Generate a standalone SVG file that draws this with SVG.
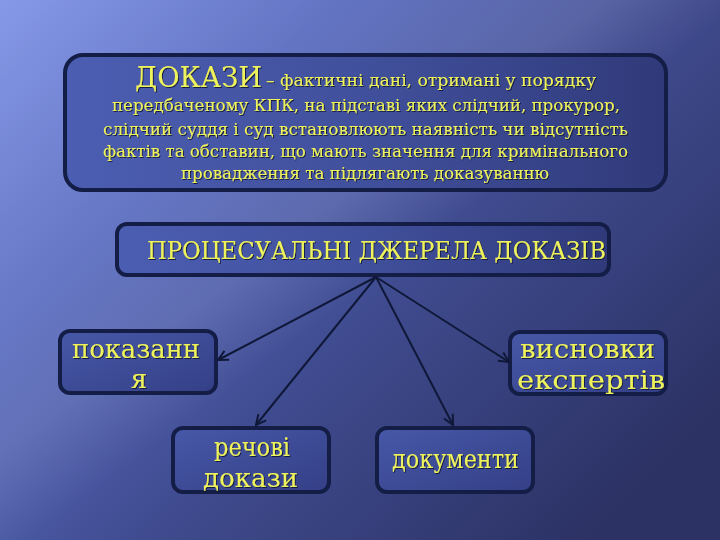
<svg xmlns="http://www.w3.org/2000/svg" width="720" height="540" viewBox="0 0 720 540">
<defs>
<linearGradient id="bg" x1="0" y1="0" x2="1" y2="0.75">
<stop offset="0" stop-color="#8699e8"/>
<stop offset="0.3" stop-color="#5a6cc0"/>
<stop offset="0.6" stop-color="#404c90"/>
<stop offset="1" stop-color="#2c3264"/>
</linearGradient>
<linearGradient id="band" x1="0" y1="0" x2="1" y2="1">
<stop offset="0" stop-color="#ffffff" stop-opacity="0"/>
<stop offset="0.42" stop-color="#ffffff" stop-opacity="0.1"/>
<stop offset="0.52" stop-color="#ffffff" stop-opacity="0"/>
<stop offset="1" stop-color="#ffffff" stop-opacity="0"/>
</linearGradient>
<linearGradient id="boxfill" x1="0" y1="0" x2="1" y2="0">
<stop offset="0" stop-color="#4c5eb2"/>
<stop offset="0.5" stop-color="#41509c"/>
<stop offset="1" stop-color="#303a7a"/>
</linearGradient>
<linearGradient id="smallfill" x1="0" y1="0" x2="1" y2="1">
<stop offset="0" stop-color="#4758a8"/>
<stop offset="1" stop-color="#343f86"/>
</linearGradient>
<filter id="sh" x="-5%" y="-20%" width="110%" height="140%">
<feDropShadow dx="1" dy="1" stdDeviation="0.6" flood-color="#10183a" flood-opacity="0.9"/>
</filter>
<marker id="arr" viewBox="0 0 12 12" refX="11" refY="6" markerWidth="12" markerHeight="12" markerUnits="userSpaceOnUse" orient="auto">
<path d="M1,1 L11,6 L1,11" fill="none" stroke="#0f1838" stroke-width="2"/>
</marker>
</defs>
<style>
.box{stroke:#131d45;stroke-width:4;}
.t{font-family:"DejaVu Serif","Liberation Serif",serif;fill:#eef25c;filter:url(#sh);}
.n{font-size:26px;}
.conn{stroke:#0f1838;stroke-width:2;fill:none;}
</style>
<rect width="720" height="540" fill="url(#bg)"/>
<rect width="720" height="540" fill="url(#band)"/>

<g id="definition">
<rect class="box" x="65" y="55" width="601" height="135" rx="18" fill="url(#boxfill)"/>
<text class="t" x="135" y="87" font-size="28" textLength="127" lengthAdjust="spacingAndGlyphs">ДОКАЗИ</text>
<text class="t" x="266" y="86" font-size="17" textLength="330" lengthAdjust="spacingAndGlyphs">– фактичні дані, отримані у порядку</text>
<text class="t" x="112" y="111" font-size="17" textLength="508" lengthAdjust="spacingAndGlyphs">передбаченому КПК, на підставі яких слідчий, прокурор,</text>
<text class="t" x="103" y="135" font-size="17" textLength="525" lengthAdjust="spacingAndGlyphs">слідчий суддя і суд встановлюють наявність чи відсутність</text>
<text class="t" x="103" y="157" font-size="17" textLength="525" lengthAdjust="spacingAndGlyphs">фактів та обставин, що мають значення для кримінального</text>
<text class="t" x="181" y="179" font-size="17" textLength="368" lengthAdjust="spacingAndGlyphs">провадження та підлягають доказуванню</text>
</g>

<g id="sources">
<rect class="box" x="117" y="224" width="492" height="51" rx="10" fill="url(#boxfill)"/>
<text class="t" x="147" y="259" font-size="24" textLength="459" lengthAdjust="spacingAndGlyphs">ПРОЦЕСУАЛЬНІ ДЖЕРЕЛА ДОКАЗІВ</text>
</g>

<g id="testimony">
<rect class="box" x="60" y="331" width="156" height="62" rx="10" fill="url(#smallfill)"/>
<text class="t n" x="72" y="358" textLength="128" lengthAdjust="spacingAndGlyphs">показанн</text>
<text class="t n" x="139" y="388" text-anchor="middle">я</text>
</g>

<g id="expert">
<rect class="box" x="510" y="332" width="156" height="62" rx="10" fill="url(#smallfill)"/>
<text class="t n" x="520" y="358" textLength="135" lengthAdjust="spacingAndGlyphs">висновки</text>
<text class="t n" x="517" y="389" textLength="148" lengthAdjust="spacingAndGlyphs">експертів</text>
</g>

<g id="physical">
<rect class="box" x="173" y="428" width="156" height="64" rx="10" fill="url(#smallfill)"/>
<text class="t n" x="214" y="456" textLength="76" lengthAdjust="spacingAndGlyphs">речові</text>
<text class="t n" x="203" y="487" textLength="95" lengthAdjust="spacingAndGlyphs">докази</text>
</g>

<g id="documents">
<rect class="box" x="377" y="428" width="156" height="64" rx="10" fill="url(#smallfill)"/>
<text class="t n" x="392" y="468" font-size="28" textLength="127" lengthAdjust="spacingAndGlyphs">документи</text>
</g>

<g id="connectors">
<line class="conn" x1="376" y1="277" x2="218" y2="360" marker-end="url(#arr)"/>
<line class="conn" x1="376" y1="277" x2="509" y2="362" marker-end="url(#arr)"/>
<line class="conn" x1="376" y1="277" x2="256" y2="425" marker-end="url(#arr)"/>
<line class="conn" x1="376" y1="277" x2="453" y2="425" marker-end="url(#arr)"/>
</g>
</svg>
